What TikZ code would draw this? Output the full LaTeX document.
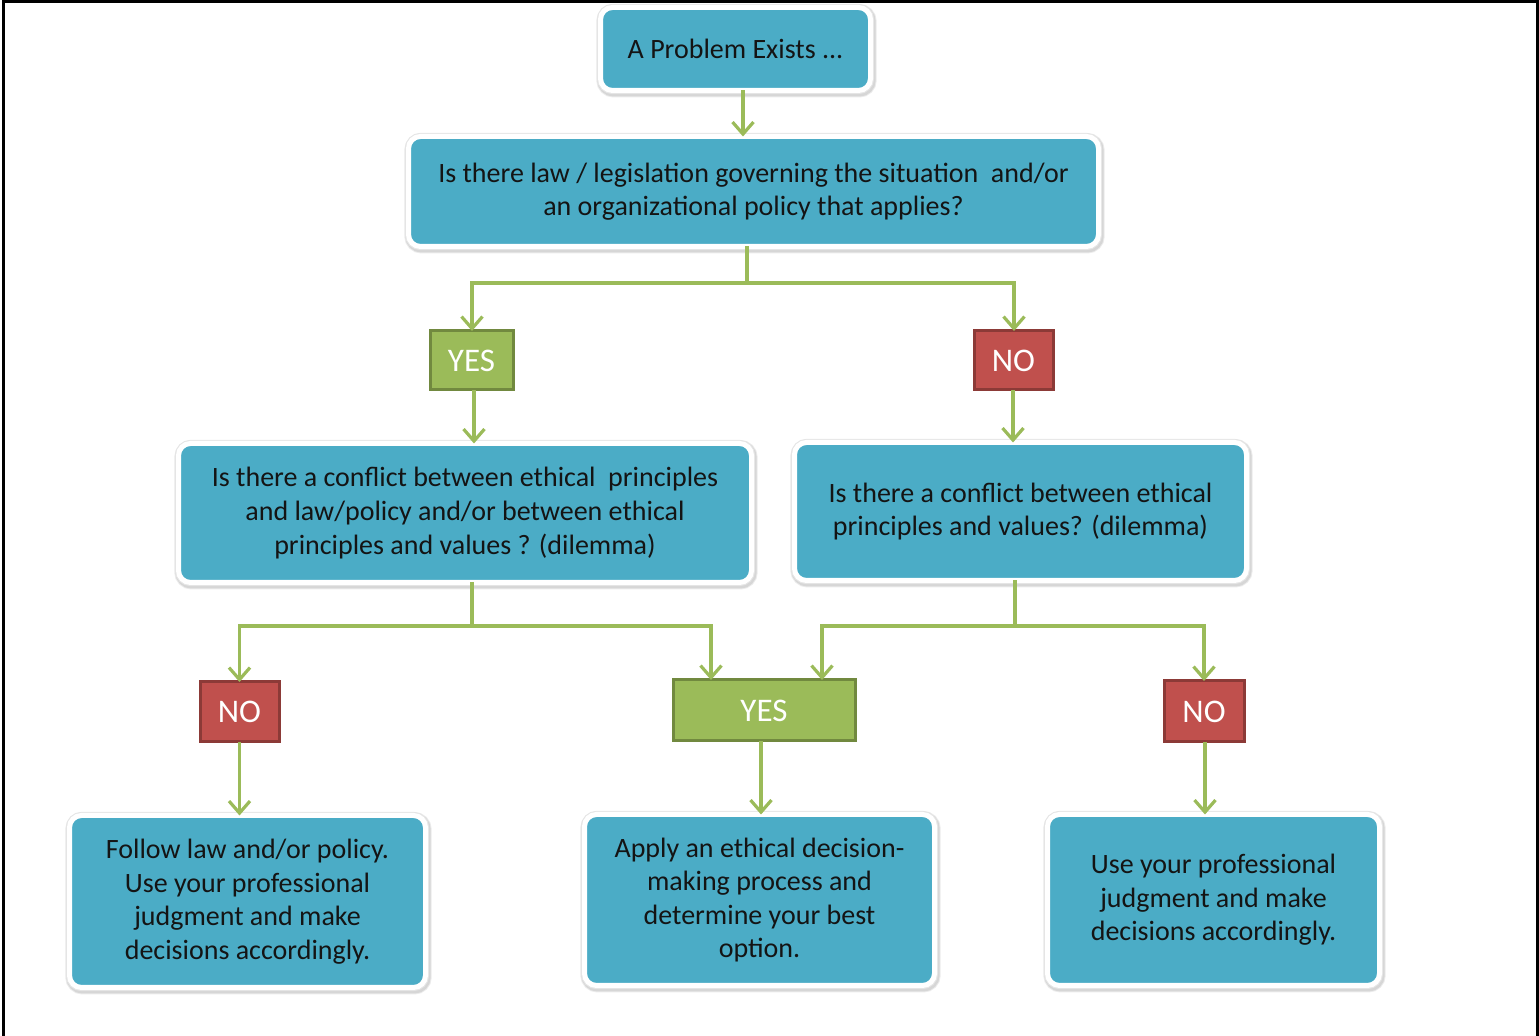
\documentclass[tikz,border=0pt]{standalone}
\usepackage{fontspec}
\setmainfont{Carlito}
\usetikzlibrary{arrows.meta}
\definecolor{aqua}{HTML}{4BACC6}
\definecolor{okgreen}{HTML}{9BBB59}
\definecolor{okgreendark}{HTML}{71893F}
\definecolor{nored}{HTML}{C0504D}
\definecolor{noreddark}{HTML}{8C3A37}
\definecolor{txt}{HTML}{141414}
\begin{document}
\begin{tikzpicture}[x=0.5pt,y=-0.5pt,
  box/.style={fill=aqua, draw=white, line width=2.5pt, rounded corners=6pt,
    inner sep=0pt, outer sep=0pt, align=center, text=txt,
    font=\fontsize{14}{16.8}\selectfont,
    preaction={draw=black!8, line width=5.2pt, transform canvas={shift={(0.5pt,-0.9pt)}}},
    preaction={draw=black!16, line width=4.2pt, transform canvas={shift={(0.5pt,-0.9pt)}}},
    preaction={draw=black!10, line width=3.6pt}},
  yesbox/.style={fill=okgreen, draw=okgreendark, line width=1.5pt, inner sep=0pt,
    outer sep=0pt, text=white, font=\fontsize{16.5}{18}\selectfont},
  nobox/.style={fill=nored, draw=noreddark, line width=1.5pt, inner sep=0pt,
    outer sep=0pt, text=white, font=\fontsize{16.5}{18}\selectfont},
  conn/.style={draw=okgreen, line width=1.6pt},
  arr/.style={conn, -{Straight Barb[length=6pt,width=10.5pt]}}
]
\useasboundingbox (0,0) rectangle (1539,1036);
\draw[line width=1.5pt] (3,1036) -- (3,1.5) -- (1537,1.5) -- (1537,1036);

\node[box, minimum width=135pt, minimum height=41.5pt] (prob) at (735.5,49) {A Problem Exists ...};
\node[box, minimum width=345pt, minimum height=55pt] (law) at (753.5,191.5)
  {Is there law / legislation governing the situation\ \ and/or\\an organizational policy that applies?};
\node[yesbox, minimum width=41.5pt, minimum height=29.5pt] (yes1) at (471.5,360.5) {YES};
\node[nobox, minimum width=39.5pt, minimum height=29.5pt] (no1) at (1013.5,360.5) {NO};
\node[box, minimum width=286.5pt, minimum height=69.5pt] (cl) at (465,513)
  {Is there a conflict between ethical\ \ principles\\and law/policy and/or between ethical\\principles and values ? (dilemma)};
\node[box, minimum width=226pt, minimum height=69pt] (cr) at (1020.5,511.5)
  {Is there a conflict between ethical\\principles and values? (dilemma)};
\node[nobox, minimum width=39.5pt, minimum height=30pt] (no2) at (239.5,712) {NO};
\node[yesbox, minimum width=91pt, minimum height=30.5pt] (yes2) at (764,710.5) {YES};
\node[nobox, minimum width=40pt, minimum height=30.5pt] (no3) at (1204,711.5) {NO};
\node[box, minimum width=178pt, minimum height=86pt] (bl) at (247.5,901.5)
  {Follow law and/or policy.\\Use your professional\\judgment and make\\decisions accordingly.};
\node[box, minimum width=175pt, minimum height=85.5pt] (bm) at (759.5,900)
  {Apply an ethical decision-\\making process and\\determine your best\\option.};
\node[box, minimum width=166pt, minimum height=85.5pt] (br) at (1213.5,900)
  {Use your professional\\judgment and make\\decisions accordingly.};

% connectors
\draw[arr] (prob.south -| 743,0) -- (law.north -| 743,0);
\coordinate (j1) at (747,283);
\draw[conn] (law.south -| j1) -- (j1);
\draw[arr] (j1) -| (yes1.north -| 472,0);
\draw[arr] (j1) -| (no1.north -| 1014,0);
\draw[arr] (yes1.south -| 474,0) -- (cl.north -| 474,0);
\draw[arr] (no1.south -| 1013,0) -- (cr.north -| 1013,0);
\coordinate (j2) at (472,626);
\draw[conn] (cl.south -| j2) -- (j2);
\draw[arr] (j2) -| (no2.north);
\draw[arr] (j2) -| (yes2.north -| 711,0);
\coordinate (j3) at (1015,626);
\draw[conn] (cr.south -| j3) -- (j3);
\draw[arr] (j3) -| (yes2.north -| 822,0);
\draw[arr] (j3) -| (no3.north);
\draw[arr] (no2.south) -- (bl.north -| no2.south);
\draw[arr] (yes2.south -| 761,0) -- (bm.north -| 761,0);
\draw[arr] (no3.south -| 1205,0) -- (br.north -| 1205,0);
\end{tikzpicture}
\end{document}
